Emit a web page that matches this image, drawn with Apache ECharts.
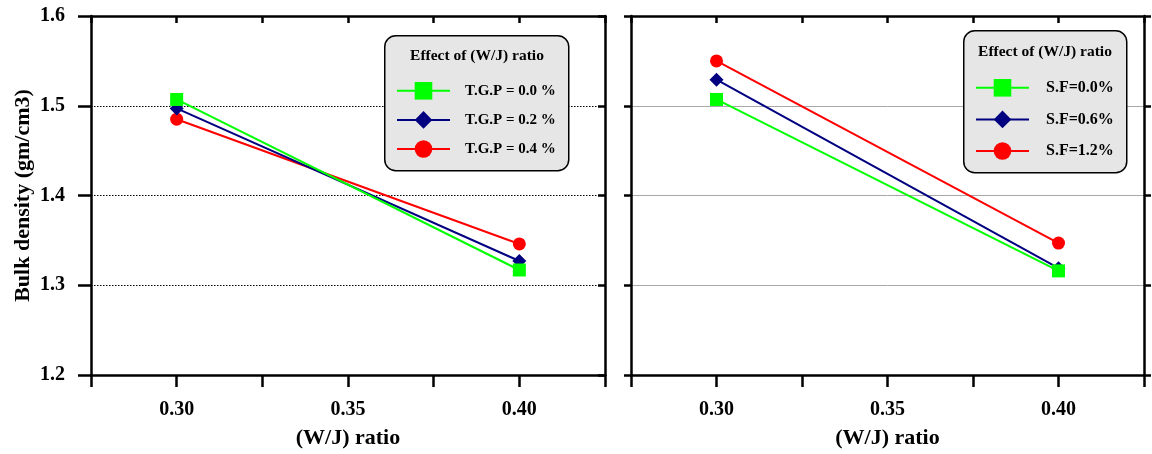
<!DOCTYPE html>
<html>
<head>
<meta charset="utf-8">
<script src="https://cdn.jsdelivr.net/npm/echarts@6/dist/echarts.min.js"></script>
<style>html,body{margin:0;padding:0;background:#fff}#c{width:1152px;height:454px}</style>
</head>
<body>
<div id="c"></div>
<script>
// ---- data ----
const xValues = [0.30, 0.40];
const leftNames = ['T.G.P = 0.0 %', 'T.G.P = 0.2 %', 'T.G.P = 0.4 %'];
const leftGreen = [1.507, 1.317];
const leftNavy  = [1.497, 1.327];
const leftRed   = [1.485, 1.346];
const rightNames = ['S.F=0.0%', 'S.F=0.6%', 'S.F=1.2%'];
const rightGreen = [1.507, 1.316];
const rightNavy  = [1.529, 1.319];
const rightRed   = [1.550, 1.347];
const legendTitle = 'Effect of (W/J) ratio';
const xTitle = '(W/J) ratio';
const yTitle = 'Bulk density (gm/cm3)';
const xMin = 0.275, xMax = 0.425, xStep = 0.025;
const yMin = 1.2, yMax = 1.6, yStep = 0.1;

const FONT = '"Liberation Serif", "Times New Roman", serif';
const colors = ['#00ff00', '#000080', '#ff0000'];
const symbols = ['rect', 'diamond', 'circle'];
const symSizes = [13, 14, 13];

function pairs(vals) { return xValues.map((x, i) => [x, vals[i]]); }
function xLabel(v) {
  const k = Math.round(v * 1000);
  return (k % 50 === 0) ? (k / 1000).toFixed(2) : '';
}
const axisLine = { show: true, lineStyle: { color: '#000', width: 2.5 } };

function xAxes(gi) {
  return [
    { gridIndex: gi, type: 'value', position: 'bottom', min: xMin, max: xMax, interval: xStep,
      axisLine, axisTick: { show: true, inside: false, length: 12, lineStyle: { color: '#000', width: 2.5 } },
      axisLabel: { show: true, formatter: xLabel, margin: 25, color: '#000', fontFamily: FONT, fontWeight: 'bold', fontSize: 20, showMinLabel: true, showMaxLabel: true },
      splitLine: { show: false },
      name: xTitle, nameLocation: 'middle', nameGap: 52,
      nameTextStyle: { color: '#000', fontFamily: FONT, fontWeight: 'bold', fontSize: 22 } },
    { gridIndex: gi, type: 'value', position: 'top', min: xMin, max: xMax, interval: xStep,
      axisLine, axisTick: { show: true, inside: true, length: 7, lineStyle: { color: '#000', width: 2.5 } },
      axisLabel: { show: false }, splitLine: { show: false } }
  ];
}
function yAxes(gi) {
  const left = gi === 0;
  return [
    { gridIndex: gi, type: 'value', position: 'left', min: yMin, max: yMax, interval: yStep,
      axisLine, axisTick: { show: true, inside: false, length: left ? 13 : 7, lineStyle: { color: '#000', width: 2.5 } },
      axisLabel: { show: left, formatter: v => v.toFixed(1), margin: 26, color: '#000', fontFamily: FONT, fontWeight: 'bold', fontSize: 20 },
      splitLine: left ? { show: true, lineStyle: { color: '#000', width: 1, type: [1.5, 1.5] } }
                      : { show: true, lineStyle: { color: '#a8a8a8', width: 1, type: 'solid' } },
      name: left ? yTitle : '', nameLocation: 'middle', nameGap: 57, nameRotate: 90,
      nameTextStyle: { color: '#000', fontFamily: FONT, fontWeight: 'bold', fontSize: 22 } },
    { gridIndex: gi, type: 'value', position: 'right', min: yMin, max: yMax, interval: yStep,
      axisLine, axisTick: { show: true, inside: left, length: 7, lineStyle: { color: '#000', width: 2.5 } },
      axisLabel: { show: false }, splitLine: { show: false } }
  ];
}

function mkSeries(name, vals, i, gi) {
  return {
    type: 'line', name, data: pairs(vals),
    xAxisIndex: gi * 2, yAxisIndex: gi * 2,
    symbol: symbols[i], symbolSize: symSizes[i], showSymbol: true,
    lineStyle: { color: colors[i], width: 2 },
    itemStyle: { color: colors[i] },
    z: 3 - i + 2,
    animation: false
  };
}
const leftVals = [leftGreen, leftNavy, leftRed];
const rightVals = [rightGreen, rightNavy, rightRed];
const series = [];
leftNames.forEach((n, i) => series.push(mkSeries(n, leftVals[i], i, 0)));
rightNames.forEach((n, i) => series.push(mkSeries(n, rightVals[i], i, 1)));

function legendCfg(names, left, top, gap, fs, tp) {
  return {
    data: names, orient: 'vertical', left, top, itemWidth: 53, itemHeight: 22, itemGap: gap,
    padding: 0, z: 10, selectedMode: false,
    textStyle: { color: '#000', fontFamily: FONT, fontWeight: 'bold', fontSize: fs, padding: [0, 0, 0, tp] }
  };
}
function boxGraphic(x, y, w, h, tx, ty) {
  return [
    { type: 'rect', left: x, top: y, z: 6, shape: { width: w, height: h, r: 11 },
      style: { fill: '#e6e6e6', stroke: '#000', lineWidth: 1.5 } },
    { type: 'text', z: 7, x: tx, y: ty,
      style: { text: legendTitle, fill: '#000', font: 'bold 15.5px ' + FONT, textAlign: 'center', textVerticalAlign: 'middle' } }
  ];
}

const chart = echarts.init(document.getElementById('c'), null, { renderer: 'canvas' });
chart.setOption({
  backgroundColor: '#fff',
  animation: false,
  grid: [
    { left: 91, right: 547, top: 16, bottom: 77 },
    { left: 631, right: 8, top: 16, bottom: 77 }
  ],
  xAxis: [...xAxes(0), ...xAxes(1)],
  yAxis: [...yAxes(0), ...yAxes(1)],
  legend: [legendCfg(leftNames, 396, 82, 11.5, 15, 10), legendCfg(rightNames, 975, 79, 14, 16, 12)],
  graphic: [...boxGraphic(384, 35, 184, 135, 477, 56), ...boxGraphic(963, 30, 163, 142, 1045, 52)],
  series
});
</script>
</body>
</html>
